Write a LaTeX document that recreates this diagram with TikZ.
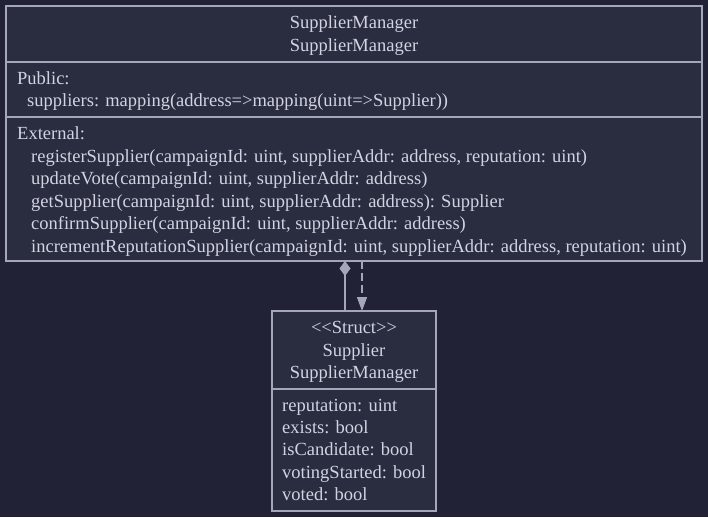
\documentclass[tikz,border=0pt]{standalone}
\usepackage{fontspec}
\setmainfont{Liberation Serif}[Ligatures=TeXOff]
\usetikzlibrary{arrows.meta}
\definecolor{bgc}{RGB}{33,34,53}
\definecolor{boxc}{RGB}{42,44,64}
\definecolor{linec}{RGB}{165,166,185}
\definecolor{txtc}{RGB}{210,211,225}
\begin{document}
\begin{tikzpicture}[x=1pt,y=-1pt,
  umlbox/.style={draw=linec, fill=boxc, line width=1.2pt, inner sep=0pt, outer sep=0pt, anchor=north west, rectangle},
  txt/.style={text=txtc, inner sep=0pt, anchor=base west, font=\fontsize{18.5}{22}\selectfont},
  ctxt/.style={txt, anchor=base},
  sepline/.style={draw=linec, line width=1.2pt},
  link/.style={draw=linec, line width=1.2pt}]
\fill[bgc] (0,0) rectangle (708,517);
\useasboundingbox (0,0) rectangle (708,517);
% SupplierManager box
\node[umlbox, minimum width=696pt, minimum height=255pt] (mgr) at (6,6) {};
\draw[sepline] (6,62) -- (702,62);
\draw[sepline] (6,117) -- (702,117);
\node[ctxt] (h1) at (354,28) {SupplierManager};
\node[ctxt] (h2) at (354,51) {SupplierManager};
\node[txt] (pub) at (17,84) {Public:};
\node[txt] (att1) at (27,106.5) {suppliers: mapping(address=>mapping(uint=>Supplier))};
\node[txt] (ext) at (17,139) {External:};
\node[txt] (m1) at (31,162) {registerSupplier(campaignId: uint, supplierAddr: address, reputation: uint)};
\node[txt] (m2) at (31,184.5) {updateVote(campaignId: uint, supplierAddr: address)};
\node[txt] (m3) at (31,207) {getSupplier(campaignId: uint, supplierAddr: address): Supplier};
\node[txt] (m4) at (31,229) {confirmSupplier(campaignId: uint, supplierAddr: address)};
\node[txt] (m5) at (31,252) {incrementReputationSupplier(campaignId: uint, supplierAddr: address, reputation: uint)};
% Supplier struct box
\node[umlbox, minimum width=164pt, minimum height=200pt] (sup) at (272,311) {};
\draw[sepline] (272,389) -- (436,389);
\node[ctxt] (s0) at (354,333) {<<Struct>>};
\node[ctxt] (s1) at (354,356) {Supplier};
\node[ctxt] (s2) at (354,378) {SupplierManager};
\node[txt] (a1) at (282,411) {reputation: uint};
\node[txt] (a2) at (282,433) {exists: bool};
\node[txt] (a3) at (282,455.5) {isCandidate: bool};
\node[txt] (a4) at (282,478) {votingStarted: bool};
\node[txt] (a5) at (282,500) {voted: bool};
% connectors
\draw[link, {Diamond[width=11pt,length=15pt]}-] ([xshift=-9pt]mgr.south) -- ([xshift=-9pt]sup.north);
\draw[link, dash pattern=on 8pt off 4pt, -{Triangle[width=10pt,length=14pt]}] ([xshift=8pt]mgr.south) -- ([xshift=8pt]sup.north);
\end{tikzpicture}
\end{document}
